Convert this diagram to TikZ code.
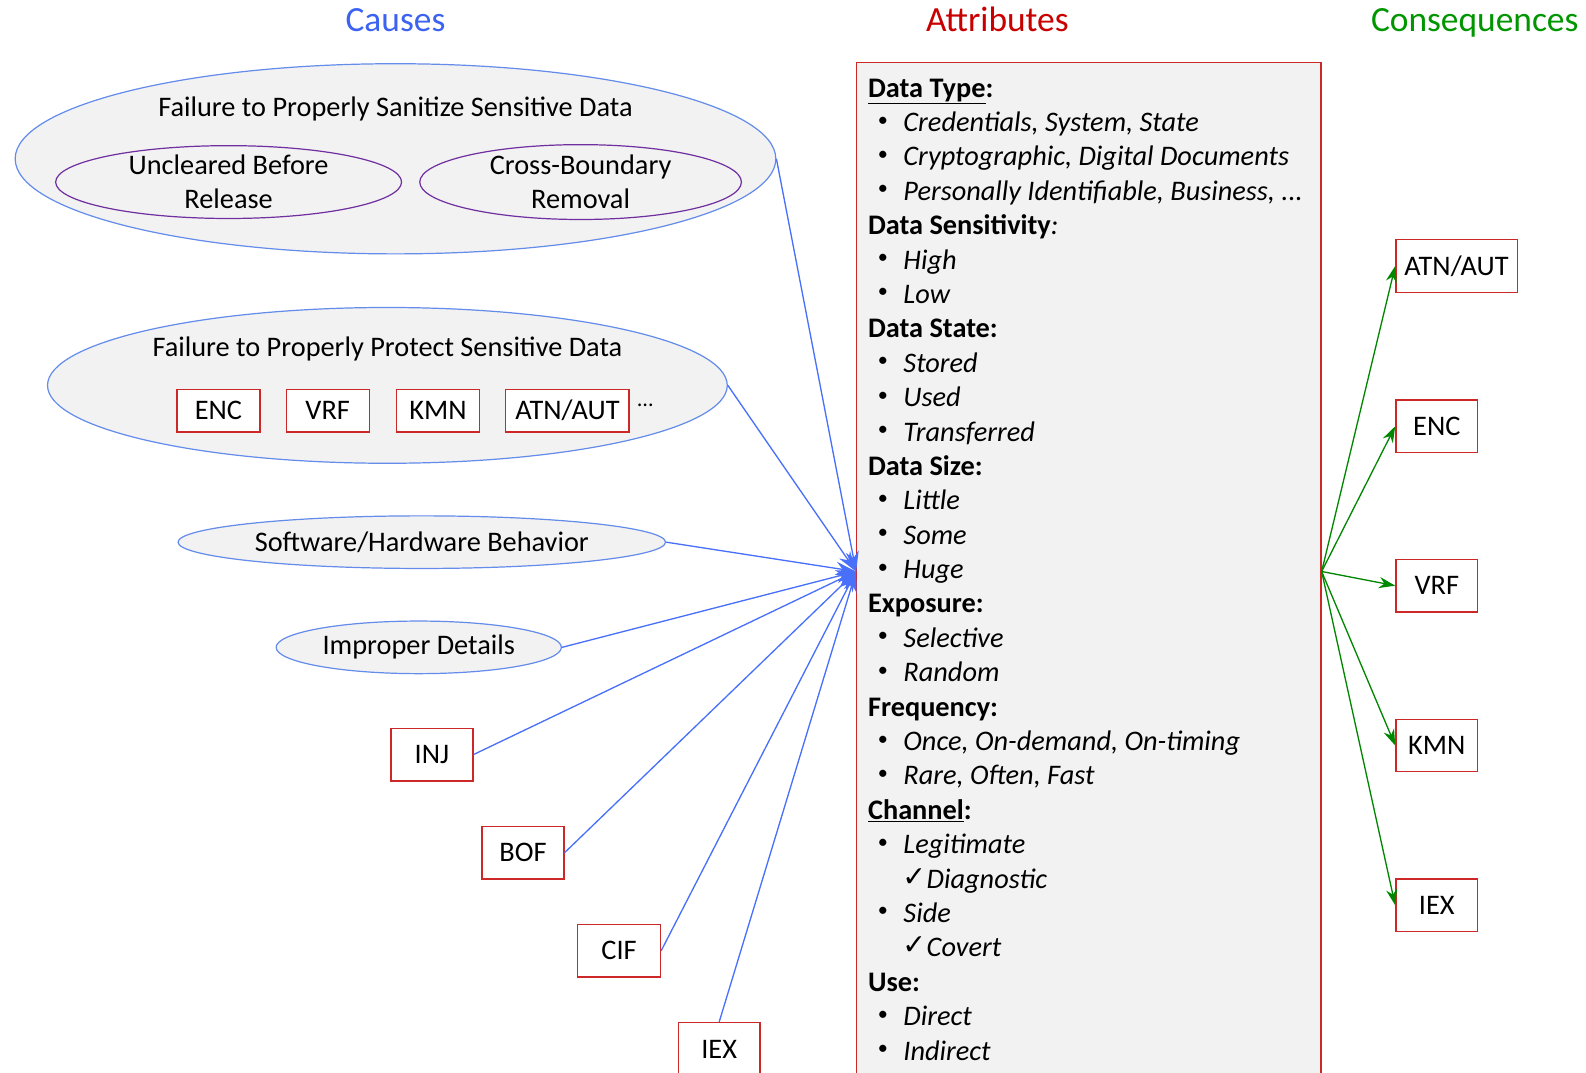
\documentclass[tikz,border=0pt]{standalone}
\usepackage{fontspec}
\setmainfont{Carlito}
\newfontfamily\symbolfont{DejaVu Sans}
\usetikzlibrary{shapes.geometric,arrows.meta}
\definecolor{causeblue}{RGB}{59,99,240}
\definecolor{linkblue}{RGB}{72,112,250}
\definecolor{ovalblue}{RGB}{100,140,235}
\definecolor{attrred}{RGB}{200,0,0}
\definecolor{boxred}{RGB}{205,40,40}
\definecolor{consgreen}{RGB}{0,150,0}
\definecolor{arrowgreen}{RGB}{0,135,0}
\definecolor{ovalpurple}{RGB}{112,48,160}
\definecolor{panel}{RGB}{242,242,242}
\begin{document}
\begin{tikzpicture}[x=1pt,y=-1pt,
  every node/.style={font=\fontsize{28}{34}\selectfont},
  title/.style={anchor=base,font=\fontsize{35}{42}\selectfont},
  oval/.style={ellipse,draw=ovalblue,fill=panel,line width=1.2pt,inner sep=0pt},
  suboval/.style={ellipse,draw=ovalpurple,line width=1.2pt,inner sep=0pt},
  code/.style={rectangle,draw=boxred,fill=white,line width=1.3pt,inner sep=0pt,minimum height=52pt},
  head/.style={anchor=base west,inner sep=0pt,font=\fontsize{28}{34}\selectfont\bfseries},
  item/.style={anchor=base west,inner sep=0pt,font=\fontsize{28}{34}\selectfont\itshape},
  cause/.style={draw=linkblue,line width=1.3pt,-{Stealth[length=20pt,width=13pt]}},
  effect/.style={draw=arrowgreen,line width=1.3pt,-{Stealth[length=16pt,width=11pt]}}]
  \useasboundingbox (0,0) rectangle (1568,1060);
  \fill[white] (0,0) rectangle (1568,1060);
  \node[title,text=causeblue] (tcause) at (391,31) {Causes};
  \node[title,text=attrred] (tattr) at (986,31) {Attributes};
  \node[title,text=consgreen] (tcons) at (1458,31) {Consequences};

  \node[oval,minimum width=752pt,minimum height=188pt] (sanit) at (391,157) {};
  \node[anchor=base] (tsanit) at (391,115) {Failure to Properly Sanitize Sensitive Data};
  \node[suboval,minimum width=342pt,minimum height=72pt] (uncl) at (226,180) {};
  \node[align=center] (tuncl) at (uncl) {Uncleared Before\\Release};
  \node[suboval,minimum width=318pt,minimum height=74pt] (cross) at (574,180) {};
  \node[align=center] (tcross) at (cross) {Cross-Boundary\\Removal};

  \node[oval,minimum width=672pt,minimum height=154pt] (protect) at (383,381) {};
  \node[anchor=base] (tprotect) at (383,352) {Failure to Properly Protect Sensitive Data};
  \node[code,minimum width=82pt,minimum height=42pt] (penc) at (216,406) {ENC};
  \node[code,minimum width=82pt,minimum height=42pt] (pvrf) at (324,406) {VRF};
  \node[code,minimum width=82pt,minimum height=42pt] (pkmn) at (433,406) {KMN};
  \node[code,minimum width=122pt,minimum height=42pt] (patn) at (561,406) {ATN/AUT};
  \node[font=\fontsize{22}{24}\selectfont] (more) at (638,401) {…};

  \node[oval,minimum width=482pt,minimum height=52pt] (behav) at (417,536) {Software/Hardware Behavior};
  \node[oval,minimum width=282pt,minimum height=52pt] (detail) at (414,640) {Improper Details};
  \node[code,minimum width=81pt] (inj) at (427,746) {INJ};
  \node[code,minimum width=81pt] (bof) at (517,843) {BOF};
  \node[code,minimum width=82pt] (cif) at (612,940) {CIF};
  \node[code,minimum width=81pt] (iexc) at (711,1037) {IEX};

  \node[draw=boxred,fill=panel,line width=1.3pt,inner sep=0pt,minimum width=459pt,minimum height=1006pt] (attr) at (1076.5,565) {};
  \foreach \i/\t in {0/{\underline{Data Type}:},4/{Data Sensitivity{\mdseries\itshape :}},7/{Data State:},11/{Data Size:},15/{Exposure:},18/{Frequency:},21/{\underline{Channel}:},26/{Use:}}
    \node[head] (h\i) at (858,{96+34*\i}) {\t};
  \foreach \i/\t in {1/{Credentials, System, State},2/{Cryptographic, Digital Documents},3/{Personally Identifiable, Business, ...},5/High,6/Low,8/Stored,9/Used,10/Transferred,12/Little,13/Some,14/Huge,16/Selective,17/Random,19/{Once, On-demand, On-timing},20/{Rare, Often, Fast},22/Legitimate,24/Side,27/Direct,28/Indirect}{
    \node[inner sep=0pt,font=\fontsize{20}{34}\selectfont] (b\i) at (873,{86+34*\i}) {\textbullet};
    \node[item] (it\i) at (893,{96+34*\i}) {\t};
  }
  \foreach \i/\t in {23/Diagnostic,25/Covert}{
    \node[anchor=base west,inner sep=0pt,font=\fontsize{28}{34}\symbolfont] (c\i) at (892,{94+34*\i}) {✓};
    \node[item] (it\i) at (916,{96+34*\i}) {\t};
  }

  \node[code,minimum width=120pt] (catn) at (1440,263) {ATN/AUT};
  \node[code,minimum width=81pt] (cenc) at (1420.5,421.5) {ENC};
  \node[code,minimum width=81pt] (cvrf) at (1420.5,579) {VRF};
  \node[code,minimum width=81pt] (ckmn) at (1420.5,737) {KMN};
  \node[code,minimum width=81pt] (ciex) at (1420.5,895) {IEX};

  \draw[cause] (sanit.east) -- (attr.west);
  \draw[cause] (protect.east) -- (attr.west);
  \draw[cause] (behav.east) -- (attr.west);
  \draw[cause] (detail.east) -- (attr.west);
  \draw[cause] (inj.east) -- (attr.west);
  \draw[cause] (bof.east) -- (attr.west);
  \draw[cause] (cif.east) -- (attr.west);
  \draw[cause] (iexc.north) -- (attr.west);
  \foreach \c in {catn,cenc,cvrf,ckmn,ciex}
    \draw[effect] (attr.east) -- (\c.west);
\end{tikzpicture}
\end{document}
